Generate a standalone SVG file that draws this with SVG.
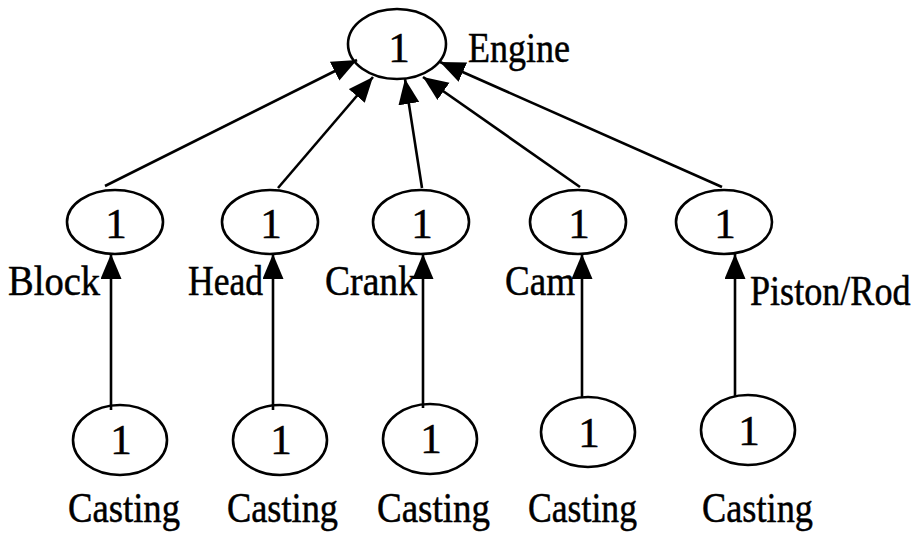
<svg xmlns="http://www.w3.org/2000/svg" width="919" height="536" viewBox="0 0 919 536">
  <style>
    .node { fill: none; stroke: #000; stroke-width: 2.6; }
    .lbl { font-family: "Liberation Serif", "Times New Roman", serif; font-size: 42px; fill: #000; stroke: #000; stroke-width: 0.5; }
    .num { font-family: "Liberation Serif", "Times New Roman", serif; font-size: 43px; fill: #000; stroke: #000; stroke-width: 0.5; text-anchor: middle; }
    .edge { stroke: #000; stroke-width: 2.6; fill: none; marker-end: url(#arrow); }
  </style>
  <defs>
    <marker id="arrow" markerUnits="userSpaceOnUse" markerWidth="28" markerHeight="24" refX="25" refY="10.5" orient="auto">
      <path d="M0,0 L25,10.5 L0,21 Z" fill="#000"/>
    </marker>
  </defs>
  <rect width="919" height="536" fill="#fff"/>

  <!-- top assembly -->
  <g id="engine">
    <ellipse class="node" cx="397" cy="44" rx="49" ry="35"/>
    <text class="num" x="399" y="62">1</text>
    <text class="lbl" x="468" y="62" textLength="102" lengthAdjust="spacingAndGlyphs">Engine</text>
  </g>

  <!-- sub-assemblies -->
  <g id="block">
    <ellipse class="node" cx="115" cy="222" rx="48" ry="32"/>
    <text class="num" x="116" y="238">1</text>
    <text class="lbl" x="8" y="295" textLength="92" lengthAdjust="spacingAndGlyphs">Block</text>
  </g>
  <g id="head">
    <ellipse class="node" cx="270" cy="222" rx="48" ry="32"/>
    <text class="num" x="271" y="238">1</text>
    <text class="lbl" x="188" y="295" textLength="75" lengthAdjust="spacingAndGlyphs">Head</text>
  </g>
  <g id="crank">
    <ellipse class="node" cx="421" cy="222" rx="48" ry="32"/>
    <text class="num" x="422" y="238">1</text>
    <text class="lbl" x="325" y="295" textLength="92" lengthAdjust="spacingAndGlyphs">Crank</text>
  </g>
  <g id="cam">
    <ellipse class="node" cx="578" cy="222" rx="48" ry="32"/>
    <text class="num" x="579" y="238">1</text>
    <text class="lbl" x="505" y="295" textLength="70" lengthAdjust="spacingAndGlyphs">Cam</text>
  </g>
  <g id="piston-rod">
    <ellipse class="node" cx="724" cy="222" rx="48" ry="32"/>
    <text class="num" x="725" y="238">1</text>
    <!-- narrowed horizontally so the label stays inside the right edge -->
    <text class="lbl" transform="translate(750,305) scale(0.86,1)" x="0" y="0">Piston/Rod</text>
  </g>

  <!-- castings -->
  <g id="casting-block">
    <ellipse class="node" cx="120" cy="440" rx="47" ry="35"/>
    <text class="num" x="121" y="454">1</text>
    <text class="lbl" x="68" y="522" textLength="112" lengthAdjust="spacingAndGlyphs">Casting</text>
  </g>
  <g id="casting-head">
    <ellipse class="node" cx="280" cy="440" rx="47" ry="35"/>
    <text class="num" x="281" y="454">1</text>
    <text class="lbl" x="227" y="522" textLength="111" lengthAdjust="spacingAndGlyphs">Casting</text>
  </g>
  <g id="casting-crank">
    <ellipse class="node" cx="430" cy="439" rx="47" ry="35"/>
    <text class="num" x="431" y="453">1</text>
    <text class="lbl" x="377" y="522" textLength="113" lengthAdjust="spacingAndGlyphs">Casting</text>
  </g>
  <g id="casting-cam">
    <ellipse class="node" cx="588" cy="432" rx="47" ry="35"/>
    <text class="num" x="589" y="447">1</text>
    <text class="lbl" x="528" y="522" textLength="109" lengthAdjust="spacingAndGlyphs">Casting</text>
  </g>
  <g id="casting-piston">
    <ellipse class="node" cx="748" cy="430" rx="47" ry="35"/>
    <text class="num" x="749" y="445">1</text>
    <text class="lbl" x="702" y="522" textLength="111" lengthAdjust="spacingAndGlyphs">Casting</text>
  </g>

  <!-- connectors -->
  <g id="connectors">
    <line class="edge" x1="105" y1="186" x2="357" y2="60"/>
    <line class="edge" x1="278" y1="188" x2="373" y2="77"/>
    <line class="edge" x1="422" y1="188" x2="405" y2="79"/>
    <line class="edge" x1="580" y1="187" x2="423" y2="77"/>
    <line class="edge" x1="722" y1="187" x2="440" y2="62"/>

    <line class="edge" x1="111" y1="410" x2="111" y2="254"/>
    <line class="edge" x1="273" y1="410" x2="273" y2="254"/>
    <line class="edge" x1="423" y1="408" x2="423" y2="254"/>
    <line class="edge" x1="582" y1="398" x2="582" y2="254"/>
    <line class="edge" x1="735" y1="396" x2="735" y2="254"/>
  </g>
</svg>
